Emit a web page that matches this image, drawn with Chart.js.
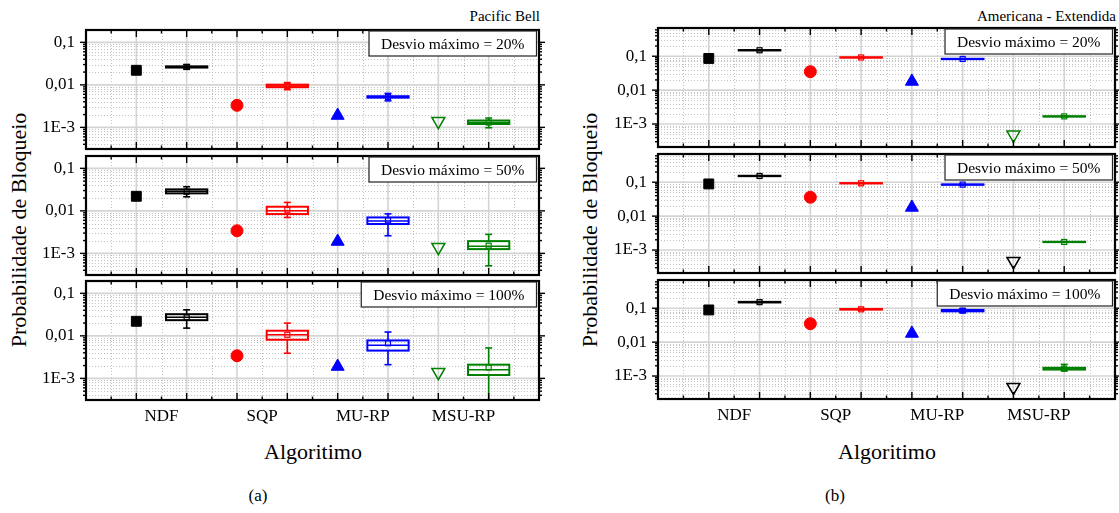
<!DOCTYPE html>
<html>
<head>
<meta charset="utf-8">
<script src="https://cdn.jsdelivr.net/npm/chart.js@4.4.1/dist/chart.umd.min.js"></script>
<style>
  body { margin: 0; width: 1119px; height: 513px; position: relative; overflow: hidden; background: #fff;
         font-family: "Liberation Serif", "Times New Roman", serif; color: #000; }
  canvas { position: absolute; }
  .lbl { position: absolute; white-space: nowrap; transform: translate(-50%, -50%); }
  .rot { transform: translate(-50%, -50%) rotate(-90deg); }
  .ttl { position: absolute; white-space: nowrap; font-size: 15px; top: 8px; }
</style>
</head>
<body>
<div class="ttl" style="right:579px;">Pacific Bell</div>
<div class="ttl" style="right:3px;">Americana - Extendida</div>
<div class="lbl rot" style="left:19px; top:230px; font-size:22px;">Probabilidade de Bloqueio</div>
<div class="lbl rot" style="left:590px; top:230px; font-size:22px;">Probabilidade de Bloqueio</div>
<div class="lbl" style="left:313px; top:452px; font-size:22px;">Algoritimo</div>
<div class="lbl" style="left:887px; top:452px; font-size:22px;">Algoritimo</div>
<div class="lbl" style="left:258px; top:496px; font-size:17px;">(a)</div>
<div class="lbl" style="left:835px; top:496px; font-size:17px;">(b)</div>

<script>
// categories and where they sit on the 0..9 axis
const categories = ["NDF", "SQP", "MU-RP", "MSU-RP"];
const categoryPos = [1.5, 3.5, 5.5, 7.5];
const singlePos = [1, 3, 5, 7];
const boxPos = [2, 4, 6, 8];

const yTicks = [0.001, 0.01, 0.1];
const yTickLabels = ["1E-3", "0,01", "0,1"];
const deviations = ["Desvio máximo = 20%", "Desvio máximo = 50%", "Desvio máximo = 100%"];

// Pacific Bell - single runs (NDF, SQP, MU-RP, MSU-RP)
const pacificSingle20 = [0.022, 0.0033, 0.0019, 0.0014];
const pacificSingle50 = [0.022, 0.0034, 0.0019, 0.0014];
const pacificSingle100 = [0.022, 0.0034, 0.0019, 0.0014];

// Pacific Bell - spread per algorithm: [min, q1, median, q3, max, mean]
const pacificBox20 = [
  [0.0235, 0.0255, 0.0263, 0.0272, 0.0300, 0.0263],
  [0.0077, 0.0088, 0.0094, 0.0101, 0.0113, 0.0094],
  [0.0042, 0.0050, 0.0052, 0.0054, 0.0063, 0.0052],
  [0.00098, 0.0012, 0.0013, 0.00145, 0.00166, 0.0013],
];
const pacificBox50 = [
  [0.0214, 0.0258, 0.0288, 0.0320, 0.0369, 0.0282],
  [0.0070, 0.0084, 0.0100, 0.0125, 0.0158, 0.0106],
  [0.0026, 0.0049, 0.0058, 0.0070, 0.0085, 0.0060],
  [0.00051, 0.00126, 0.00148, 0.00194, 0.0028, 0.00152],
];
const pacificBox100 = [
  [0.0152, 0.0234, 0.0275, 0.0323, 0.0410, 0.0272],
  [0.0039, 0.0081, 0.0106, 0.0132, 0.0199, 0.0106],
  [0.0021, 0.0045, 0.0060, 0.0078, 0.0123, 0.0067],
  [0.00028, 0.0012, 0.0016, 0.0021, 0.0052, 0.0018],
];

// Americana - Extendida - single runs
const americanaSingle20 = [0.086, 0.035, 0.018, 0.00048];
const americanaSingle50 = [0.089, 0.036, 0.018, 0.00047];
const americanaSingle100 = [0.089, 0.035, 0.018, 0.00047];

// Americana - Extendida - spread per algorithm: [min, q1, median, q3, max, mean]
const americanaBox20 = [
  [0.146, 0.148, 0.150, 0.152, 0.154, 0.150],
  [0.090, 0.091, 0.092, 0.093, 0.094, 0.092],
  [0.081, 0.082, 0.083, 0.084, 0.085, 0.083],
  [0.00164, 0.00166, 0.00168, 0.00170, 0.00172, 0.00168],
];
const americanaBox50 = [
  [0.149, 0.151, 0.153, 0.155, 0.157, 0.153],
  [0.091, 0.092, 0.093, 0.094, 0.095, 0.093],
  [0.083, 0.084, 0.085, 0.086, 0.087, 0.085],
  [0.00169, 0.00171, 0.00173, 0.00175, 0.00177, 0.00173],
];
const americanaBox100 = [
  [0.146, 0.148, 0.151, 0.154, 0.156, 0.151],
  [0.088, 0.091, 0.093, 0.095, 0.099, 0.093],
  [0.074, 0.081, 0.085, 0.089, 0.096, 0.085],
  [0.00142, 0.00155, 0.00165, 0.00175, 0.0022, 0.00165],
];

const seriesColors = ["#000000", "#ff0000", "#0000ff", "#008000"];
const FONT = '"Liberation Serif", "Times New Roman", serif';
Chart.defaults.font.family = FONT;
Chart.defaults.color = "#000";

const panels = [
  {
    left: 86, right: 540, tops: [30, 156, 281], yMin: 3.1e-4, yMax: 0.195,
    singles: [pacificSingle20, pacificSingle50, pacificSingle100],
    boxes: [pacificBox20, pacificBox50, pacificBox100],
    openColor: ["#008000", "#008000", "#008000"],
  },
  {
    left: 658, right: 1116, tops: [28, 154, 280], yMin: 2.1e-4, yMax: 0.68,
    singles: [americanaSingle20, americanaSingle50, americanaSingle100],
    boxes: [americanaBox20, americanaBox50, americanaBox100],
    openColor: ["#008000", "#000000", "#000000"],
  },
];

const plotHeight = 119;
const axisRoom = 70, padRight = 8, padTB = 24, labelRoom = 30;

function hLine(ctx, a, py) {
  ctx.beginPath(); ctx.moveTo(a.left, py); ctx.lineTo(a.right, py); ctx.stroke();
}
function vLine(ctx, a, px) {
  ctx.beginPath(); ctx.moveTo(px, a.top); ctx.lineTo(px, a.bottom); ctx.stroke();
}
function seg(ctx, x1, y1, x2, y2) {
  ctx.beginPath(); ctx.moveTo(x1, y1); ctx.lineTo(x2, y2); ctx.stroke();
}
function minorValues(scale) {
  const out = [];
  for (let d = Math.floor(Math.log10(scale.min)); d <= Math.ceil(Math.log10(scale.max)); d++) {
    for (let k = 2; k <= 9; k++) {
      const v = k * Math.pow(10, d);
      if (v > scale.min && v < scale.max) out.push(v);
    }
  }
  return out;
}
function majorValues(scale) {
  const out = [];
  for (let d = Math.floor(Math.log10(scale.min)); d <= Math.ceil(Math.log10(scale.max)); d++) {
    const v = Math.pow(10, d);
    if (v >= scale.min && v <= scale.max) out.push(v);
  }
  return out;
}

const framePlugin = {
  id: "frame",
  beforeDatasetsDraw(chart, args, opts) {
    const { ctx, chartArea: a, scales: { x, y } } = chart;
    ctx.save();
    ctx.beginPath();
    ctx.rect(a.left, a.top, a.right - a.left, a.bottom - a.top);
    ctx.clip();

    // dotted minor grid
    ctx.strokeStyle = "#c2c2c2";
    ctx.lineWidth = 1;
    ctx.setLineDash([1, 2]);
    minorValues(y).forEach((v) => hLine(ctx, a, Math.round(y.getPixelForValue(v)) + 0.5));
    for (let v = 0.5; v < 9; v += 1) vLine(ctx, a, Math.round(x.getPixelForValue(v)) + 0.5);

    // solid major grid
    ctx.setLineDash([]);
    ctx.strokeStyle = "#d4d4d4";
    ctx.lineWidth = 1.6;
    majorValues(y).forEach((v) => hLine(ctx, a, y.getPixelForValue(v)));
    for (let v = 1; v < 9; v++) vLine(ctx, a, x.getPixelForValue(v));

    // box plots
    opts.boxes.forEach((b, i) => {
      const [mn, q1, med, q3, mx, mean] = b;
      const px = x.getPixelForValue(boxPos[i]);
      const hw = x.getPixelForValue(boxPos[i] + 0.41) - px;
      const py = (v) => y.getPixelForValue(v);
      ctx.strokeStyle = seriesColors[i];
      ctx.lineWidth = 1.6;
      seg(ctx, px, py(mx), px, py(q3));
      seg(ctx, px, py(q1), px, py(mn));
      seg(ctx, px - 3.5, py(mx), px + 3.5, py(mx));
      seg(ctx, px - 3.5, py(mn), px + 3.5, py(mn));
      ctx.lineWidth = 2;
      ctx.strokeRect(px - hw, py(q3), 2 * hw, py(q1) - py(q3));
      ctx.lineWidth = 1.5;
      seg(ctx, px - hw, py(med), px + hw, py(med));
      ctx.lineWidth = 1.2;
      ctx.strokeRect(px - 2.5, py(mean) - 2.5, 5, 5);
    });
    ctx.restore();
  },
  afterDatasetsDraw(chart, args, opts) {
    const { ctx, chartArea: a, scales: { x, y } } = chart;
    ctx.save();
    ctx.strokeStyle = "#000";
    ctx.lineWidth = 1.4;
    // y ticks, outward on both sides
    majorValues(y).forEach((v) => {
      const py = y.getPixelForValue(v);
      seg(ctx, a.left - 6, py, a.left, py);
      seg(ctx, a.right, py, a.right + 6, py);
    });
    minorValues(y).forEach((v) => {
      const py = y.getPixelForValue(v);
      seg(ctx, a.left - 3, py, a.left, py);
      seg(ctx, a.right, py, a.right + 3, py);
    });
    // x ticks, inward on top and bottom
    for (let v = 0.5; v < 9; v += 0.5) {
      const px = x.getPixelForValue(v);
      const len = Number.isInteger(v) ? 7 : 3.5;
      seg(ctx, px, a.bottom, px, a.bottom - len);
      seg(ctx, px, a.top, px, a.top + len);
    }
    // frame
    ctx.lineWidth = 2.2;
    ctx.strokeRect(a.left, a.top, a.right - a.left, a.bottom - a.top);

    // deviation label box
    ctx.font = "15.5px " + FONT;
    const tw = ctx.measureText(opts.label).width;
    const bw = tw + 24, bh = 25;
    const bx = a.right - 2.5 - bw, by = a.top + 1;
    ctx.fillStyle = "#fff";
    ctx.fillRect(bx, by, bw, bh);
    ctx.strokeStyle = "#222";
    ctx.lineWidth = 1.2;
    ctx.strokeRect(bx, by, bw, bh);
    ctx.fillStyle = "#000";
    ctx.textAlign = "left";
    ctx.textBaseline = "middle";
    ctx.fillText(opts.label, bx + 12, by + bh / 2 + 1);
    ctx.restore();
  },
};

panels.forEach((panel) => {
  panel.tops.forEach((top, s) => {
    const isBottom = s === panel.tops.length - 1;
    const w = panel.right - panel.left + axisRoom + padRight;
    const h = plotHeight + 2 * padTB + (isBottom ? labelRoom : 0);
    const canvas = document.createElement("canvas");
    canvas.width = w;
    canvas.height = h;
    canvas.style.width = w + "px";
    canvas.style.height = h + "px";
    canvas.style.left = panel.left - axisRoom + "px";
    canvas.style.top = top - padTB + "px";
    document.body.appendChild(canvas);

    const single = panel.singles[s];
    const open = panel.openColor[s];

    new Chart(canvas, {
      type: "scatter",
      data: {
        datasets: [
          {
            data: singlePos.map((pos, i) => ({ x: pos, y: single[i] })),
            pointStyle: ["rect", "circle", "triangle", "triangle"],
            rotation: [0, 0, 0, 180],
            pointRadius: [7, 6, 7.5, 7.5],
            backgroundColor: [seriesColors[0], seriesColors[1], seriesColors[2], "rgba(0,0,0,0)"],
            borderColor: [seriesColors[0], seriesColors[1], seriesColors[2], open],
            borderWidth: [1, 1, 1, 1.5],
          },
        ],
      },
      options: {
        responsive: false,
        animation: false,
        events: [],
        layout: { padding: { left: 0, right: padRight, top: padTB, bottom: padTB } },
        plugins: {
          legend: { display: false },
          tooltip: { enabled: false },
          frame: { label: deviations[s], boxes: panel.boxes[s] },
        },
        scales: {
          x: {
            type: "linear",
            min: 0,
            max: 9,
            bounds: "data",
            grid: { display: false, drawTicks: false },
            border: { display: false },
            afterBuildTicks: (scale) => {
              scale.ticks = categoryPos.map((v) => ({ value: v }));
            },
            afterFit: (scale) => {
              scale.height = isBottom ? labelRoom : 0;
            },
            ticks: {
              display: isBottom,
              autoSkip: false,
              maxRotation: 0,
              padding: 6,
              color: "#000",
              font: { size: 17 },
              callback: (v, i) => categories[i],
            },
          },
          y: {
            type: "logarithmic",
            min: panel.yMin,
            max: panel.yMax,
            bounds: "data",
            grid: { display: false, drawTicks: false },
            border: { display: false },
            afterBuildTicks: (scale) => {
              scale.ticks = yTicks.map((v) => ({ value: v }));
            },
            afterFit: (scale) => {
              scale.width = axisRoom;
            },
            ticks: {
              padding: 11,
              color: "#000",
              font: { size: 17 },
              callback: (v, i) => yTickLabels[i],
            },
          },
        },
      },
      plugins: [framePlugin],
    });
  });
});
</script>
</body>
</html>
